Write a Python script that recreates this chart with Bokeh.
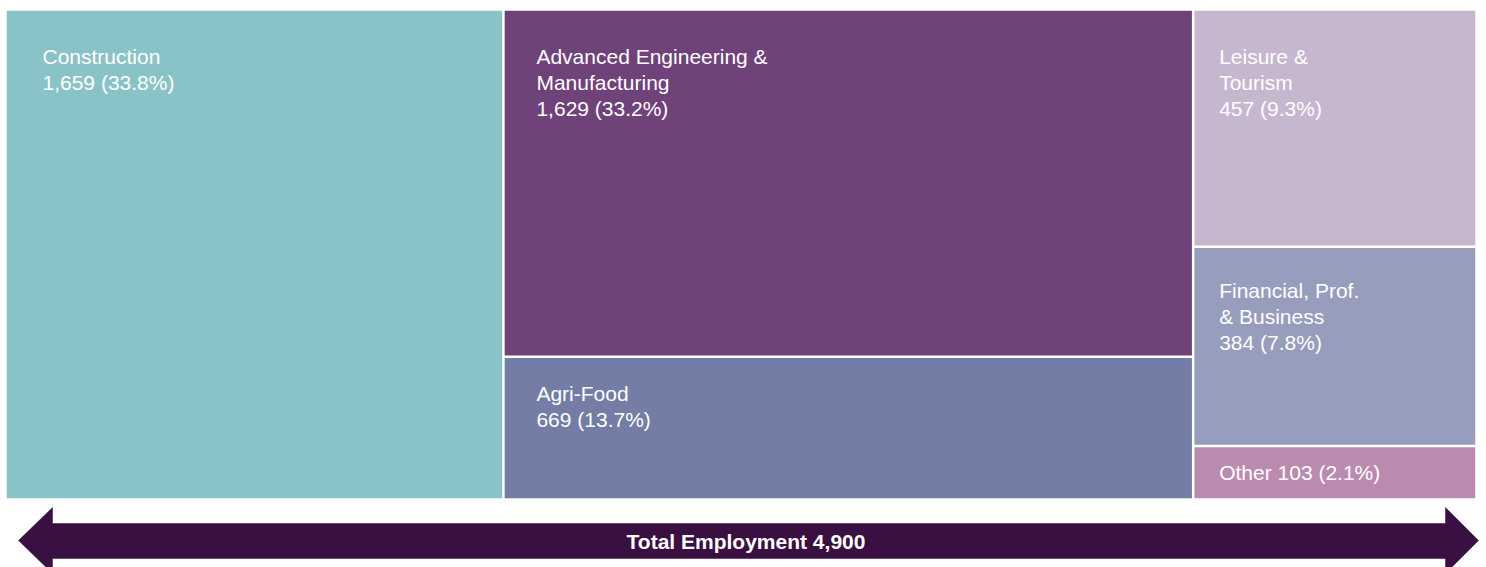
from bokeh.plotting import figure
from bokeh.models import Range1d, ColumnDataSource
from bokeh.core.properties import value
from bokeh.embed import file_html
from bokeh.resources import INLINE

# ---- data ----
sectors = ["Construction", "Advanced Engineering & Manufacturing", "Agri-Food",
           "Leisure & Tourism", "Financial, Prof. & Business", "Other"]
label_lines = [["Construction"],
               ["Advanced Engineering &", "Manufacturing"],
               ["Agri-Food"],
               ["Leisure &", "Tourism"],
               ["Financial, Prof.", "& Business"],
               ["Other"]]
employment = [1659, 1629, 669, 457, 384, 103]
percent = [33.8, 33.2, 13.7, 9.3, 7.8, 2.1]
column = [0, 1, 1, 2, 2, 2]
total_employment = 4900

# ---- style ----
colors = ["#8AC3C7", "#6F427A", "#737DA5", "#C6B7CF", "#979DBC", "#BB8BAF"]
inline_value = [False, False, False, False, False, True]
pad_x = [37, 33, 33, 26, 26, 26]
pad_y = [47, 47, 37, 47, 44, None]  # None -> vertically centred
FONT = "Liberation Sans"
FS = 21
LINE_H = 26

W, H = 1486, 567
X0, X1, Y0, Y1 = 5, 1476, 9, 499

p = figure(width=W, height=H, x_range=Range1d(0, W), y_range=Range1d(H, 0),
           output_backend="svg", toolbar_location=None, min_border=0,
           x_axis_location=None, y_axis_location=None)
p.grid.visible = False
p.outline_line_color = None
p.background_fill_color = "white"
p.border_fill_color = "white"

# ---- slice-and-dice treemap layout by column ----
ncol = max(column) + 1
col_sum = [sum(v for v, c in zip(employment, column) if c == k) for k in range(ncol)]
grand = sum(col_sum)
col_left = []
acc = X0
for k in range(ncol):
    col_left.append(acc)
    acc += (X1 - X0) * col_sum[k] / grand
col_right = col_left[1:] + [X1]

lefts, rights, tops, bottoms = [], [], [], []
col_acc = {k: Y0 for k in range(ncol)}
for v, c in zip(employment, column):
    h = (Y1 - Y0) * v / col_sum[c]
    t = col_acc[c]
    lefts.append(col_left[c]); rights.append(col_right[c])
    tops.append(t); bottoms.append(t + h)
    col_acc[c] = t + h

g = 1.25
src = ColumnDataSource(dict(left=[l + g for l in lefts], right=[r - g for r in rights],
                            top=[t + g for t in tops], bottom=[b - g for b in bottoms],
                            color=colors))
p.quad(left="left", right="right", top="top", bottom="bottom", fill_color="color",
       line_color=None, source=src)

# ---- labels ----
tx, ty, tt = [], [], []
for i in range(len(sectors)):
    val = f"{employment[i]:,} ({percent[i]}%)"
    lines = list(label_lines[i])
    if inline_value[i]:
        lines[-1] = lines[-1] + " " + val
    else:
        lines.append(val)
    if pad_y[i] is None:
        first = (tops[i] + bottoms[i]) / 2 - (len(lines) - 1) * LINE_H / 2
    else:
        first = tops[i] + pad_y[i]
    for j, ln in enumerate(lines):
        tx.append(lefts[i] + pad_x[i])
        ty.append(first + j * LINE_H)
        tt.append(ln)

p.text(x=tx, y=ty, text=tt, text_color="white", text_font=value(FONT),
       text_font_size=f"{FS}px", text_align="left", text_baseline="middle")

# ---- total arrow ----
ax = [18, 52, 52, 1445, 1445, 1478, 1445, 1445, 52, 52]
ay = [540, 507, 523, 523, 507, 540, 573, 558, 558, 573]
p.patch(ax, ay, fill_color="#3A1043", line_color="#3A1043", line_width=0.5)
p.text(x=[(X0 + X1) / 2 + 5], y=[541], text=[f"Total Employment {total_employment:,}"],
       text_color="white", text_font=value(FONT), text_font_size=f"{FS}px",
       text_font_style="bold", text_align="center", text_baseline="middle")

open("out.html", "w").write(file_html(p, INLINE))
